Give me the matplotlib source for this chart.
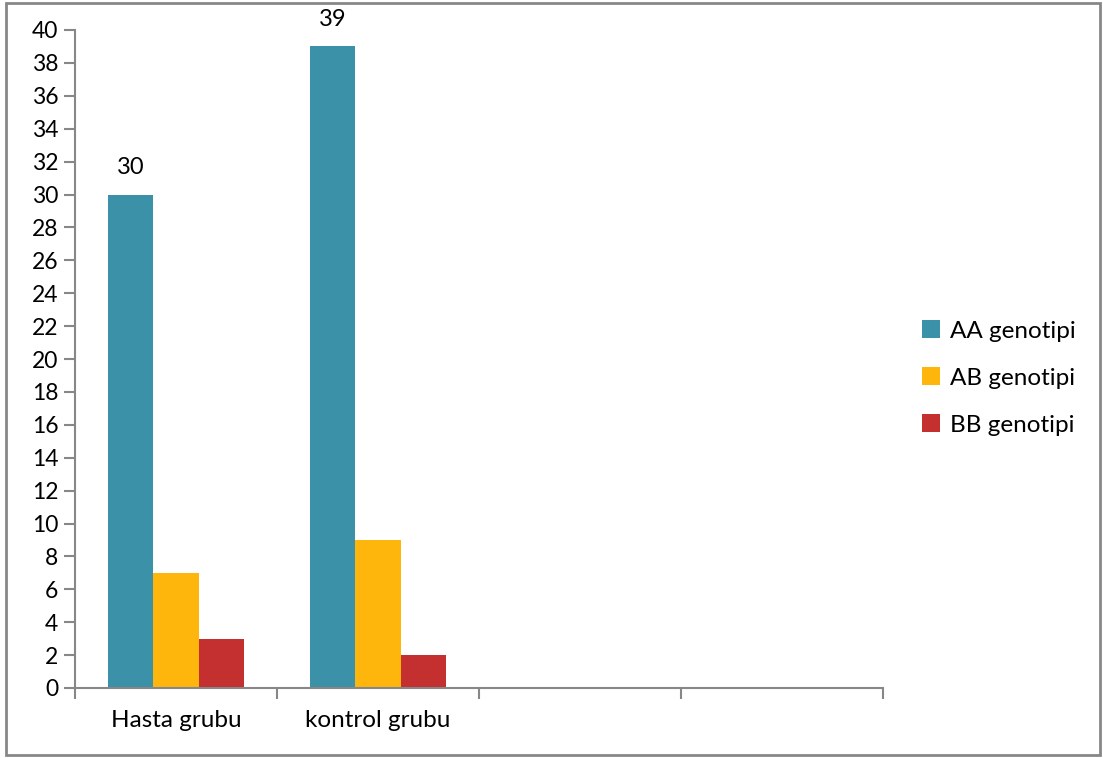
import matplotlib
matplotlib.use("Agg")
import matplotlib.pyplot as plt
from matplotlib.patches import Rectangle, Patch
import numpy as np

categories = ["Hasta grubu", "kontrol grubu", "", ""]
series_names = ["AA genotipi", "AB genotipi", "BB genotipi"]
aa_values = [30, 39]
ab_values = [7, 9]
bb_values = [3, 2]
colors = ["#3A91A8", "#FFB60C", "#C3302F"]

plt.rcParams['font.family'] = ['Lato', 'DejaVu Sans']

fig = plt.figure(figsize=(11.03, 7.58), dpi=100)
ax = fig.add_axes([75/1103, 1-688/758, (883-75)/1103, (688-30)/758])

x = np.arange(len(aa_values))
w = 0.223
series = [aa_values, ab_values, bb_values]
for i, (vals, c, name) in enumerate(zip(series, colors, series_names)):
    bars = ax.bar(x + (i-1)*w, vals, width=w, color=c, label=name)
    if i == 0:
        for b, v in zip(bars, vals):
            ax.text(b.get_x()+b.get_width()/2, v + 1.0, str(v), ha='center', va='bottom', fontsize=17)

ax.set_xlim(-0.5, 3.5)
ax.set_ylim(0, 40)
ax.set_yticks(range(0, 41, 2))
ax.set_xticks(np.arange(-0.5, 3.6, 1.0))
ax.set_xticklabels([])
ax.set_xticks(np.arange(len(categories)), minor=True)
ax.set_xticklabels(categories, minor=True, fontsize=17.5)
ax.tick_params(axis='x', which='minor', length=0, pad=16)
ax.tick_params(axis='x', which='major', length=8, direction='out', color='#878787', width=1.5)
ax.tick_params(axis='y', length=8, direction='out', color='#878787', width=1.5, labelsize=16.5, pad=4)
for s in ['top', 'right']:
    ax.spines[s].set_visible(False)
for s in ['left', 'bottom']:
    ax.spines[s].set_color('#878787')
    ax.spines[s].set_linewidth(1.5)

handles = [Patch(facecolor=c, label=n) for c, n in zip(colors, series_names)]
fig.legend(handles=handles, loc='center left', bbox_to_anchor=(900/1103, 1-378/758),
           frameon=False, fontsize=17.5, handlelength=0.75, handleheight=0.75,
           handletextpad=0.4, labelspacing=1.05)

fig.patches.append(Rectangle((6/1103, 3/758), (1100-6)/1103, (755-3)/758, transform=fig.transFigure,
                             fill=False, edgecolor='#878787', linewidth=2))

fig.savefig("out.png", dpi=100)
